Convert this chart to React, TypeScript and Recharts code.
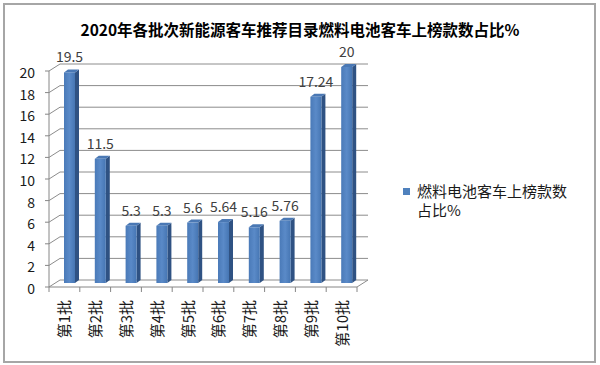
import { BarChart, Bar, XAxis, YAxis, CartesianGrid, LabelList } from 'recharts'

const title = '2020年各批次新能源客车推荐目录燃料电池客车上榜款数占比%'
const seriesName = '燃料电池客车上榜款数占比%'
const batches = ['第1批', '第2批', '第3批', '第4批', '第5批', '第6批', '第7批', '第8批', '第9批', '第10批']
const shares = [19.5, 11.5, 5.3, 5.3, 5.6, 5.64, 5.16, 5.76, 17.24, 20]
const yTicks = [0, 2, 4, 6, 8, 10, 12, 14, 16, 18, 20]

const data = batches.map((name, i) => ({ name, value: shares[i] }))

// 3D-ish offsets: front plane (axis) and back wall, relative to the bar plane
const FRONT = { dx: -5, dy: 4 }
const BACK = { dx: 6, dy: -3 }
const gridColor = '#8c8c8c'
const axisColor = '#868686'
const font = '"Noto Sans CJK SC", "Noto Sans", sans-serif'

function GridLine(props: any) {
  const { x1, x2, y1, y, height, index } = props
  const isFloor = y !== undefined && height !== undefined ? Math.abs(y1 - (y + height)) < 1 : index === 0
  const items = [
    <line key="back" x1={x1 + BACK.dx} y1={y1 + BACK.dy} x2={x2 + BACK.dx} y2={y1 + BACK.dy} stroke={gridColor} />,
    <line key="wall" x1={x1 + FRONT.dx} y1={y1 + FRONT.dy} x2={x1 + BACK.dx} y2={y1 + BACK.dy} stroke={gridColor} />,
    <line key="tick" x1={x1 + FRONT.dx - 4} y1={y1 + FRONT.dy} x2={x1 + FRONT.dx} y2={y1 + FRONT.dy} stroke={axisColor} />,
  ]
  if (isFloor) {
    items.push(
      <line key="front" x1={x1 + FRONT.dx} y1={y1 + FRONT.dy} x2={x2 + FRONT.dx} y2={y1 + FRONT.dy} stroke={axisColor} />,
      <line key="edge" x1={x2 + FRONT.dx} y1={y1 + FRONT.dy} x2={x2 + BACK.dx} y2={y1 + BACK.dy} stroke={gridColor} />,
      <line key="yaxis" x1={x1 + FRONT.dx} y1={y + FRONT.dy} x2={x1 + FRONT.dx} y2={y + height + FRONT.dy} stroke={axisColor} />,
    )
  }
  return <g key={`g-${index}-${y1}`}>{items}</g>
}

function Bar3D(props: any) {
  const { x, y, width, height } = props
  const d = 4
  const e = 3
  return (
    <g>
      <path
        d={`M${x + width},${y} L${x + width + d},${y - e} L${x + width + d},${y + height - e} L${x + width},${y + height} Z`}
        fill="#2f5283"
      />
      <path d={`M${x},${y} L${x + d},${y - e} L${x + width + d},${y - e} L${x + width},${y} Z`} fill="#4a78b4" />
      <rect x={x} y={y} width={width} height={height} fill="url(#barFront)" />
    </g>
  )
}

function BarLabel(props: any) {
  const { x, y, width, value } = props
  return (
    <text x={x + width / 2} y={y - 10} textAnchor="middle" fontSize={14} fill="#404040" fontFamily={font}>
      {String(value)}
    </text>
  )
}

function XTick(props: any) {
  const { x, y, payload, index } = props
  const half = payload.offset ?? 15
  const fy = y - 4
  return (
    <g>
      <line x1={x - half + FRONT.dx} y1={fy} x2={x - half + FRONT.dx} y2={fy + 5} stroke={axisColor} />
      {index === batches.length - 1 && (
        <line x1={x + half + FRONT.dx} y1={fy} x2={x + half + FRONT.dx} y2={fy + 5} stroke={axisColor} />
      )}
      <text
        x={x - 5.5}
        y={y + 9}
        transform={`rotate(-90, ${x - 5.5}, ${y + 9})`}
        textAnchor="end"
        dominantBaseline="central"
        fontSize={15}
        fill="#1a1a1a"
        fontFamily={font}
      >
        {payload.value}
      </text>
    </g>
  )
}

function YTick(props: any) {
  const { x, y, payload } = props
  return (
    <text x={x - 11} y={y + 5} textAnchor="end" dominantBaseline="central" fontSize={14} fill="#1a1a1a" fontFamily={font}>
      {payload.value}
    </text>
  )
}

export default function App() {
  return (
    <div style={{ position: 'absolute', left: 0, top: 0, width: 600, height: 365, background: '#fff', fontFamily: font }}>
      <div
        style={{
          position: 'absolute',
          left: 3,
          top: 3,
          width: 593,
          height: 360,
          boxSizing: 'border-box',
          border: '2px solid #a6a6a6',
        }}
      />
      <div
        style={{
          position: 'absolute',
          left: 0,
          top: 18,
          width: 600,
          textAlign: 'center',
          fontSize: 15.5,
          fontWeight: 'bold',
          color: '#000',
          lineHeight: '22px',
        }}
      >
        {title}
      </div>
      <div style={{ position: 'absolute', left: 0, top: 0 }}>
        <BarChart width={600} height={365} data={data} margin={{ top: 67, right: 238, left: 0, bottom: 0 }} barSize={11}>
          <defs>
            <linearGradient id="barFront" x1="0" y1="0" x2="1" y2="0">
              <stop offset="0%" stopColor="#4a7ab8" />
              <stop offset="50%" stopColor="#5a8ac8" />
              <stop offset="100%" stopColor="#4676b3" />
            </linearGradient>
          </defs>
          <CartesianGrid vertical={false} horizontal={GridLine as any} />
          <XAxis dataKey="name" height={82} axisLine={false} tickLine={false} tick={<XTick />} interval={0} />
          <YAxis width={54} domain={[0, 20]} ticks={yTicks} axisLine={false} tickLine={false} tick={<YTick />} interval={0} />
          <Bar dataKey="value" name={seriesName} shape={<Bar3D />} isAnimationActive={false}>
            <LabelList dataKey="value" content={<BarLabel />} />
          </Bar>
        </BarChart>
      </div>
      <div style={{ position: 'absolute', left: 403, top: 181, width: 175, fontSize: 15, lineHeight: '19px', color: '#1a1a1a' }}>
        <span style={{ position: 'absolute', left: 0, top: 7, width: 7, height: 7, background: '#4f81bd' }} />
        <div style={{ marginLeft: 14 }}>{seriesName}</div>
      </div>
    </div>
  )
}
